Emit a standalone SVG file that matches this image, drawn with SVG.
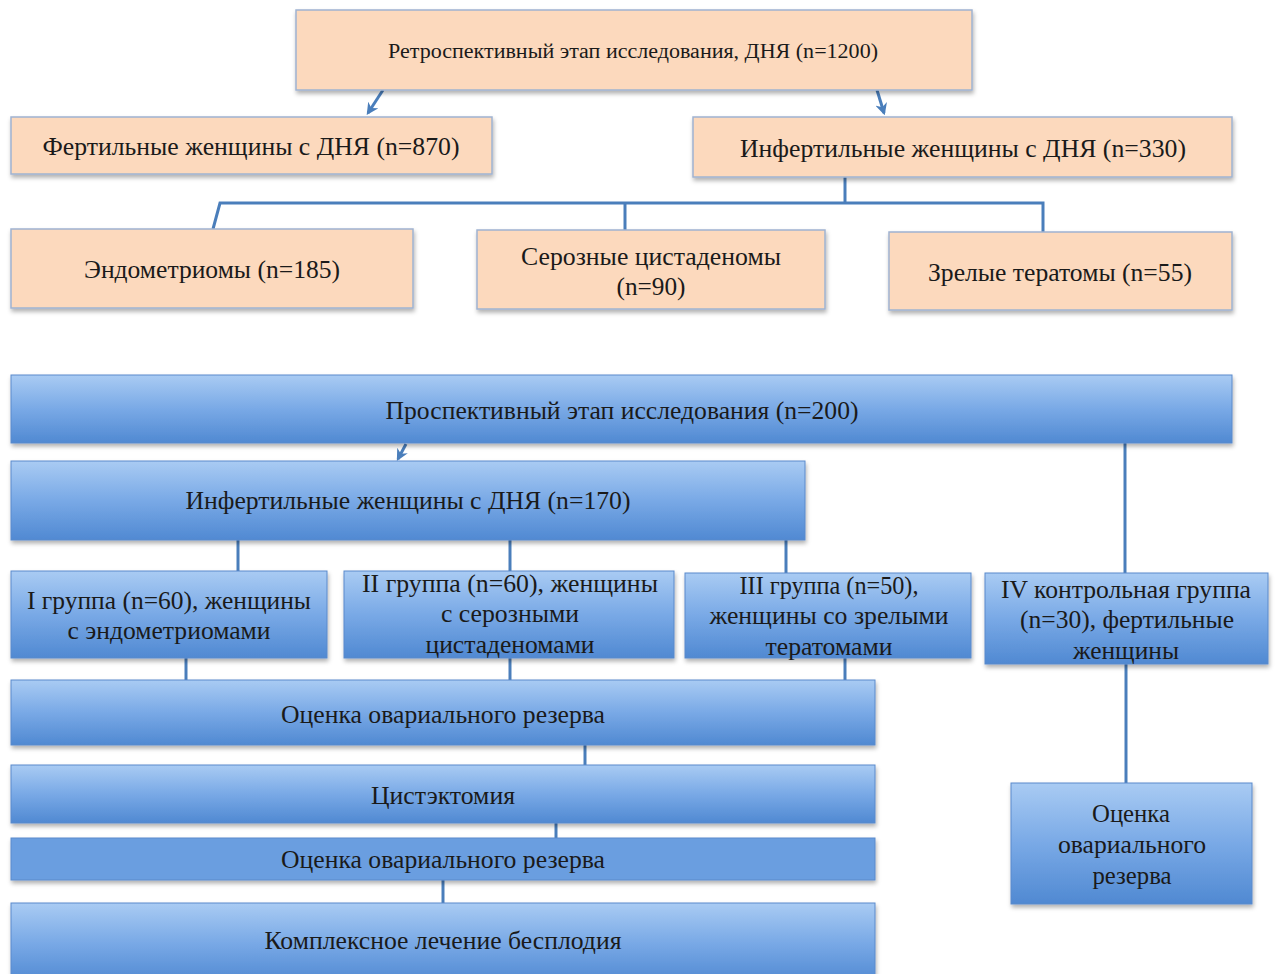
<svg xmlns="http://www.w3.org/2000/svg" width="1275" height="974" viewBox="0 0 1275 974">
<defs>
<linearGradient id="bg" x1="0" y1="0" x2="0" y2="1">
<stop offset="0" stop-color="#a9cbf3"/>
<stop offset="0.5" stop-color="#79a9e6"/>
<stop offset="1" stop-color="#5089d2"/>
</linearGradient>
<filter id="sh" x="-5%" y="-10%" width="110%" height="130%">
<feDropShadow dx="1" dy="3" stdDeviation="2" flood-color="#000" flood-opacity="0.3"/>
</filter>
<marker id="ah" viewBox="0 0 10 10" refX="8" refY="5" markerWidth="4" markerHeight="4" orient="auto">
<path d="M0,0 L10,5 L0,10 L3,5 Z" fill="#4a7ebb"/>
</marker>
</defs>
<style>
.p{fill:#fcd9bd;stroke:#9fb3d1;stroke-width:1.5;filter:url(#sh)}
.b{fill:url(#bg);stroke:#5a8acb;stroke-width:1;filter:url(#sh)}
.bf{fill:#6a9ee0;stroke:#5a8acb;stroke-width:1;filter:url(#sh)}
text{font-family:"Liberation Serif","Times New Roman",serif;fill:#1a1a1a;text-anchor:middle;font-size:25px}
.s{font-size:20px}
.c{stroke:#4a7ebb;stroke-width:3;fill:none}
</style>
<g id="connectors">
<line class="c" x1="383" y1="90" x2="368" y2="113" marker-end="url(#ah)"/>
<line class="c" x1="877" y1="90" x2="884" y2="113" marker-end="url(#ah)"/>
<polyline class="c" points="845,177 845,203"/>
<polyline class="c" points="213,229 220,203 1043,203 1043,232"/>
<line class="c" x1="625" y1="203" x2="625" y2="230"/>
<line class="c" x1="406" y1="444" x2="398" y2="459" marker-end="url(#ah)"/>
<line class="c" x1="1125" y1="443" x2="1125" y2="573"/>
<line class="c" x1="238" y1="540" x2="238" y2="571"/>
<line class="c" x1="510" y1="540" x2="510" y2="571"/>
<line class="c" x1="786" y1="540" x2="786" y2="573"/>
<line class="c" x1="186" y1="658" x2="186" y2="680"/>
<line class="c" x1="510" y1="658" x2="510" y2="680"/>
<line class="c" x1="845" y1="658" x2="845" y2="680"/>
<line class="c" x1="585" y1="745" x2="585" y2="765"/>
<line class="c" x1="556" y1="823" x2="556" y2="838"/>
<line class="c" x1="443" y1="880" x2="443" y2="903"/>
<line class="c" x1="1126" y1="664" x2="1126" y2="783"/>
</g>
<g id="n-retro"><rect class="p" x="296" y="10" width="676" height="80"/><text class="s" x="633" y="58" textLength="490" lengthAdjust="spacingAndGlyphs">Ретроспективный этап исследования, ДНЯ (n=1200)</text></g>
<g id="n-fert"><rect class="p" x="11" y="117" width="481" height="57"/><text x="251" y="155" textLength="417" lengthAdjust="spacingAndGlyphs">Фертильные женщины с ДНЯ (n=870)</text></g>
<g id="n-infert330"><rect class="p" x="693" y="117" width="539" height="60"/><text x="963" y="157" textLength="446" lengthAdjust="spacingAndGlyphs">Инфертильные женщины с ДНЯ (n=330)</text></g>
<g id="n-endo"><rect class="p" x="11" y="229" width="402" height="79"/><text x="212" y="278" textLength="256" lengthAdjust="spacingAndGlyphs">Эндометриомы (n=185)</text></g>
<g id="n-seroz"><rect class="p" x="477" y="230" width="348" height="79"/><text x="651" y="265" textLength="260" lengthAdjust="spacingAndGlyphs">Серозные цистаденомы</text><text x="651" y="295" textLength="69" lengthAdjust="spacingAndGlyphs">(n=90)</text></g>
<g id="n-terat"><rect class="p" x="889" y="232" width="343" height="78"/><text x="1060" y="281" textLength="264" lengthAdjust="spacingAndGlyphs">Зрелые тератомы (n=55)</text></g>
<g id="n-prosp"><rect class="b" x="11" y="375" width="1221" height="68"/><text x="622" y="419" textLength="473" lengthAdjust="spacingAndGlyphs">Проспективный этап исследования (n=200)</text></g>
<g id="n-infert170"><rect class="b" x="11" y="461" width="794" height="79"/><text x="408" y="509" textLength="445" lengthAdjust="spacingAndGlyphs">Инфертильные женщины с ДНЯ (n=170)</text></g>
<g id="n-g1"><rect class="b" x="11" y="571" width="316" height="87"/><text x="169" y="609" textLength="284" lengthAdjust="spacingAndGlyphs">I группа (n=60), женщины</text><text x="169" y="639" textLength="203" lengthAdjust="spacingAndGlyphs">с эндометриомами</text></g>
<g id="n-g2"><rect class="b" x="344" y="571" width="330" height="87"/><text x="510" y="592" textLength="296" lengthAdjust="spacingAndGlyphs">II группа (n=60), женщины</text><text x="510" y="622" textLength="138" lengthAdjust="spacingAndGlyphs">с серозными</text><text x="510" y="653" textLength="169" lengthAdjust="spacingAndGlyphs">цистаденомами</text></g>
<g id="n-g3"><rect class="b" x="685" y="573" width="286" height="85"/><text x="829" y="594" textLength="179" lengthAdjust="spacingAndGlyphs">III группа (n=50),</text><text x="829" y="624" textLength="239" lengthAdjust="spacingAndGlyphs">женщины со зрелыми</text><text x="829" y="655" textLength="127" lengthAdjust="spacingAndGlyphs">тератомами</text></g>
<g id="n-g4"><rect class="b" x="985" y="573" width="283" height="91"/><text x="1126" y="598" textLength="250" lengthAdjust="spacingAndGlyphs">IV контрольная группа</text><text x="1127" y="628" textLength="214" lengthAdjust="spacingAndGlyphs">(n=30), фертильные</text><text x="1126" y="659" textLength="106" lengthAdjust="spacingAndGlyphs">женщины</text></g>
<g id="n-ocenka1"><rect class="b" x="11" y="680" width="864" height="65"/><text x="443" y="723" textLength="324" lengthAdjust="spacingAndGlyphs">Оценка овариального резерва</text></g>
<g id="n-cyst"><rect class="b" x="11" y="765" width="864" height="58"/><text x="443" y="804" textLength="144" lengthAdjust="spacingAndGlyphs">Цистэктомия</text></g>
<g id="n-ocenka2"><rect class="bf" x="11" y="838" width="864" height="42"/><text x="443" y="868" textLength="324" lengthAdjust="spacingAndGlyphs">Оценка овариального резерва</text></g>
<g id="n-treat"><rect class="b" x="11" y="903" width="864" height="80"/><text x="443" y="949" textLength="357" lengthAdjust="spacingAndGlyphs">Комплексное лечение бесплодия</text></g>
<g id="n-ocenka3"><rect class="b" x="1011" y="783" width="241" height="121"/><text x="1131" y="822" textLength="78" lengthAdjust="spacingAndGlyphs">Оценка</text><text x="1132" y="853" textLength="148" lengthAdjust="spacingAndGlyphs">овариального</text><text x="1132" y="884" textLength="79" lengthAdjust="spacingAndGlyphs">резерва</text></g>
</svg>
